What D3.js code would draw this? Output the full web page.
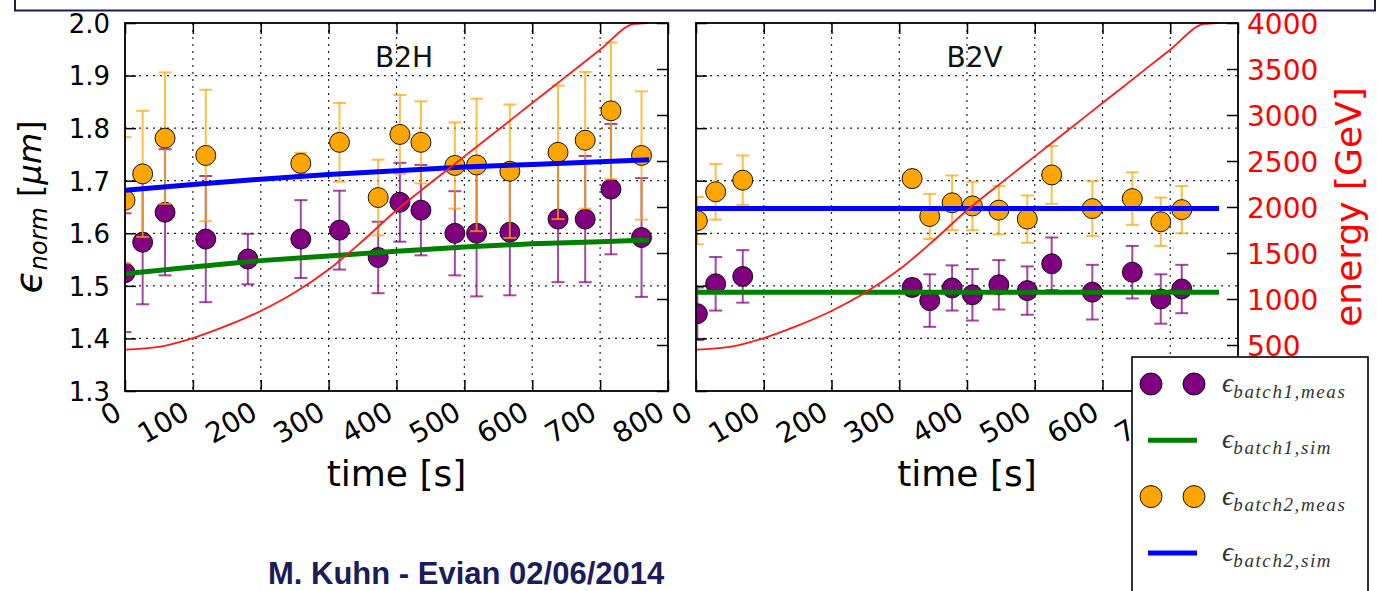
<!DOCTYPE html>
<html><head><meta charset="utf-8">
<script src="https://cdn.jsdelivr.net/npm/d3@7"></script>
<style>body{margin:0;background:#fff;overflow:hidden}svg{display:block}</style>
</head><body>
<svg id="c" width="1377" height="591"></svg>
<script>
// ---------- data ----------
const timeTicks = [0,100,200,300,400,500,600,700,800];
const epsTicks = [1.3,1.4,1.5,1.6,1.7,1.8,1.9,2.0];
const energyTicks = [0,500,1000,1500,2000,2500,3000,3500,4000];

// B2H
const b2hTime = [0,26,59,119,181,259,316,373,405,436,486,518,567,638,678,716,761];
const b2hBatch1 = [1.525,1.583,1.640,1.589,1.551,1.589,1.606,1.554,1.659,1.644,1.600,1.600,1.602,1.627,1.627,1.684,1.592];
const b2hBatch1Err = [0.113,0.118,0.12,0.12,0.048,0.074,0.075,0.068,0.075,0.086,0.08,0.12,0.12,0.12,0.12,0.124,0.113];
const b2hBatch2 = [1.663,1.713,1.781,1.748,null,1.733,1.773,1.668,1.788,1.773,1.729,1.730,1.718,1.754,1.777,1.833,1.748];
const b2hBatch2Err = [0.12,0.12,0.125,0.125,null,0.02,0.075,0.072,0.075,0.078,0.082,0.126,0.127,0.127,0.13,0.13,0.122];
const b2hSimTime = [0,100,200,300,400,500,600,700,772];
const b2hSim1 = [1.523,1.536,1.548,1.557,1.566,1.574,1.580,1.584,1.587];
const b2hSim2 = [1.682,1.693,1.703,1.712,1.719,1.726,1.731,1.736,1.740];

// B2V
const b2vTime = [2,29,69,319,345,378,408,447,489,525,585,644,686,717];
const b2vBatch1 = [1.447,1.504,1.518,1.497,1.472,1.496,1.483,1.502,1.491,1.542,1.488,1.526,1.475,1.494];
const b2vBatch1Err = [0.05,0.051,0.05,0.015,0.05,0.043,0.049,0.047,0.046,0.05,0.052,0.05,0.047,0.046];
const b2vBatch2 = [1.624,1.679,1.701,1.704,1.632,1.658,1.652,1.644,1.627,1.711,1.647,1.666,1.622,1.645];
const b2vBatch2Err = [0.045,0.053,0.047,0.015,0.043,0.052,0.046,0.046,0.045,0.055,0.052,0.05,0.046,0.045];
const b2vSimTime = [0,772];
const b2vSim1 = [1.488,1.488];
const b2vSim2 = [1.647,1.647];

// energy ramp (twin axis)
const rampTime = [0,50,100,150,200,250,300,350,400,450,500,550,600,650,700,750,770];
const rampEnergy = [450,480,575,710,870,1070,1320,1630,1965,2260,2550,2840,3130,3420,3710,3990,4000];

// ---------- drawing ----------
const svg = d3.select("#c");
const C1 = "#800080", C2 = "#ffa500", S1 = "#008000", S2 = "#0000ff";
const yTop = 23, yBot = 391;

function panel(id, x0, x1, title, time, b1, b1e, b2, b2e, simT, sim1, sim2, leftLabels, energyLabels){
  const x = d3.scaleLinear([0,800],[x0,x1]);
  const y = d3.scaleLinear([1.3,2.0],[yBot,yTop]);
  const e = d3.scaleLinear([0,4000],[yBot,yTop]);
  const g = svg.append("g");
  const clipId = "clip"+id;
  svg.append("clipPath").attr("id",clipId).append("rect")
    .attr("x",x0).attr("y",yTop-1).attr("width",x1-x0).attr("height",yBot-yTop+1);

  // grid
  const grid = g.append("g").attr("stroke","#222").attr("stroke-width",1.2).attr("stroke-dasharray","2,5");
  grid.selectAll("line.v").data(timeTicks.slice(1,-1)).join("line")
    .attr("x1",d=>x(d)).attr("x2",d=>x(d)).attr("y1",yTop).attr("y2",yBot);
  grid.selectAll("line.h").data(epsTicks.slice(1,-1)).join("line").attr("class","h")
    .attr("y1",d=>y(d)).attr("y2",d=>y(d)).attr("x1",x0).attr("x2",x1);

  const plot = g.append("g").attr("clip-path",`url(#${clipId})`);
  function series(vals, errs, col){
    const pts = time.map((t,i)=>({t, v:vals[i], e:errs[i]})).filter(d=>d.v!=null);
    const eb = plot.append("g").attr("stroke",col).attr("stroke-opacity",0.72).attr("stroke-width",2);
    eb.selectAll("line.bar").data(pts).join("line")
      .attr("x1",d=>x(d.t)).attr("x2",d=>x(d.t)).attr("y1",d=>y(d.v-d.e)).attr("y2",d=>y(d.v+d.e));
    ["lo","hi"].forEach(k=>{
      eb.selectAll("line.cap"+k).data(pts).join("line")
        .attr("x1",d=>x(d.t)-6.5).attr("x2",d=>x(d.t)+6.5)
        .attr("y1",d=>y(k=="lo"?d.v-d.e:d.v+d.e)).attr("y2",d=>y(k=="lo"?d.v-d.e:d.v+d.e));
    });
    plot.append("g").selectAll("circle").data(pts).join("circle")
      .attr("cx",d=>x(d.t)).attr("cy",d=>y(d.v)).attr("r",10)
      .attr("fill",col).attr("stroke","#000").attr("stroke-width",0.9);
  }
  series(b1,b1e,C1);
  series(b2,b2e,C2);
  const simLine = d3.line().x(d=>x(d[0])).y(d=>y(d[1]));
  plot.append("path").attr("d",simLine(simT.map((t,i)=>[t,sim1[i]])))
    .attr("fill","none").attr("stroke",S1).attr("stroke-width",5);
  plot.append("path").attr("d",simLine(simT.map((t,i)=>[t,sim2[i]])))
    .attr("fill","none").attr("stroke",S2).attr("stroke-width",5);
  const ramp = d3.line().x(d=>x(d[0])).y(d=>e(d[1])).curve(d3.curveMonotoneX);
  plot.append("path").attr("d",ramp(rampTime.map((t,i)=>[t,rampEnergy[i]])))
    .attr("fill","none").attr("stroke","#ff1a1a").attr("stroke-width",1.8);

  // frame
  g.append("rect").attr("x",x0).attr("y",yTop).attr("width",x1-x0).attr("height",yBot-yTop)
    .attr("fill","none").attr("stroke","#000").attr("stroke-width",1.8);

  // axes (inward ticks)
  const styleAxis = s => { s.select(".domain").remove(); s.selectAll(".tick line").attr("stroke","#000").attr("stroke-width",1.5); };
  const bottom = g.append("g").attr("transform",`translate(0,${yBot})`)
    .call(d3.axisBottom(x).tickValues(timeTicks).tickSize(-11).tickFormat(d3.format("d"))).call(styleAxis);
  bottom.selectAll(".tick text")
    .attr("font-family","DejaVu Sans").attr("font-size",28).attr("fill","#000")
    .attr("text-anchor","end").attr("x",0).attr("y",0).attr("dy","0.35em")
    .attr("transform","translate(-7,18) rotate(-30)");
  g.append("g").attr("transform",`translate(0,${yTop})`)
    .call(d3.axisTop(x).tickValues(timeTicks).tickSize(-11).tickFormat("")).call(styleAxis);
  const left = g.append("g").attr("transform",`translate(${x0},0)`)
    .call(d3.axisLeft(y).tickValues(epsTicks).tickSize(-11).tickPadding(15)
      .tickFormat(leftLabels? d3.format(".1f") : "")).call(styleAxis);
  left.selectAll(".tick text").attr("font-family","DejaVu Sans").attr("font-size",26).attr("fill","#000").attr("dy","0.36em");
  const right = g.append("g").attr("transform",`translate(${x1},0)`)
    .call(d3.axisRight(e).tickValues(energyTicks).tickSize(-11).tickPadding(9)
      .tickFormat(d => (energyLabels && d>0) ? d3.format("d")(d) : "")).call(styleAxis);
  right.selectAll(".tick text").attr("font-family","DejaVu Sans").attr("font-size",28).attr("fill","#ff0000").attr("dy","0.36em");

  // title
  g.append("text").attr("x",x0+(x1-x0)*0.514).attr("y",67).attr("text-anchor","middle")
    .attr("font-family","DejaVu Sans").attr("font-size",28).attr("fill","#111").text(title);
  // x label
  g.append("text").attr("x",(x0+x1)/2).attr("y",486).attr("text-anchor","middle")
    .attr("font-family","DejaVu Sans").attr("font-size",36).attr("fill","#000").text("time [s]");
  return {x,y,e};
}

panel("L",125,668,"B2H",b2hTime,b2hBatch1,b2hBatch1Err,b2hBatch2,b2hBatch2Err,b2hSimTime,b2hSim1,b2hSim2,true,false);
panel("R",696,1238,"B2V",b2vTime,b2vBatch1,b2vBatch1Err,b2vBatch2,b2vBatch2Err,b2vSimTime,b2vSim1,b2vSim2,false,true);

// y label (left)
const yl = svg.append("text").attr("transform","translate(41,207) rotate(-90)")
  .attr("text-anchor","middle").attr("font-family","DejaVu Sans").attr("fill","#000");
yl.append("tspan").attr("font-size",38).attr("font-style","italic").text("ϵ");
yl.append("tspan").attr("font-size",24).attr("font-style","italic").attr("dy",6).text("norm");
yl.append("tspan").attr("font-size",32).attr("dy",-6).text(" [");
yl.append("tspan").attr("font-size",32).attr("font-style","italic").text("μm");
yl.append("tspan").attr("font-size",32).text("]");

// right energy label
svg.append("text").attr("transform","translate(1361,207) rotate(-90)")
  .attr("text-anchor","middle").attr("font-family","DejaVu Sans").attr("font-size",36)
  .attr("fill","#ff0000").text("energy [GeV]");

// legend
const legendNames = [["batch1,meas","marker",C1],["batch1,sim","line",S1],["batch2,meas","marker",C2],["batch2,sim","line",S2]];
const lg = svg.append("g");
lg.append("rect").attr("x",1132).attr("y",357).attr("width",236).attr("height",260)
  .attr("fill","#fff").attr("stroke","#000").attr("stroke-width",1.6);
legendNames.forEach((d,i)=>{
  const cy = 384 + i*56.3;
  if(d[1]=="marker"){
    [1151,1194].forEach(cx=>lg.append("circle").attr("cx",cx).attr("cy",cy).attr("r",11)
      .attr("fill",d[2]).attr("stroke","#000").attr("stroke-width",0.9));
  } else {
    lg.append("line").attr("x1",1148).attr("x2",1197).attr("y1",cy).attr("y2",cy)
      .attr("stroke",d[2]).attr("stroke-width",5);
  }
  const t = lg.append("text").attr("x",1222).attr("y",cy+8).attr("font-family","Liberation Serif")
    .attr("font-style","italic").attr("fill","#333");
  t.append("tspan").attr("font-size",28).text("ϵ");
  t.append("tspan").attr("font-size",19).attr("dy",6).attr("letter-spacing",1.6).text(d[0]);
});

// top banner and footer
svg.append("rect").attr("x",15).attr("y",-10).attr("width",1360).attr("height",20.5)
  .attr("fill","#fff").attr("stroke","#1c1c50").attr("stroke-width",2);
svg.append("text").attr("x",268).attr("y",584).attr("font-family","Liberation Sans")
  .attr("font-weight","bold").attr("font-size",31).attr("fill","#1c1c5a").text("M. Kuhn - Evian 02/06/2014");
</script>
</body></html>
